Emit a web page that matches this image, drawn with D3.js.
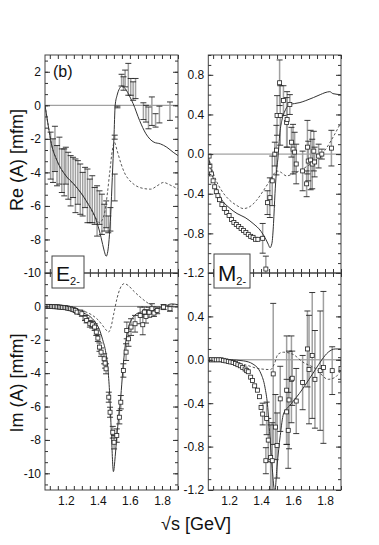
<!DOCTYPE html>
<html><head><meta charset="utf-8">
<script src="https://cdn.jsdelivr.net/npm/d3@7"></script>
<style>body{margin:0;background:#fff}svg{display:block}text{font-family:"Liberation Sans",Arial,Helvetica,sans-serif;fill:#111}</style>
</head><body><svg id="c" width="379" height="545"></svg>
<script>
// ---------- shared axis data ----------
const xDomain = [1.07, 1.9];
const xLabelTicks = [1.2, 1.4, 1.6, 1.8];

// ---------- Re E2- (top left) ----------
const reE_solidX = [1.07,1.09,1.11,1.145,1.2,1.25,1.3,1.34,1.38,1.41,1.43,1.44,1.452,1.462,1.47,1.48,1.49,1.50,1.508,1.52,1.535,1.55,1.57,1.6,1.62,1.66,1.7,1.75,1.79,1.83,1.87,1.9];
const reE_solidY = [0,-1.2,-2.3,-3.3,-4.2,-4.7,-5.3,-5.9,-6.6,-7.5,-8.3,-8.7,-9.0,-8.7,-8.0,-6.5,-4.3,-2.0,0.0,0.6,1.0,1.15,1.0,0.5,0.1,-0.9,-1.7,-2.2,-2.3,-2.5,-2.8,-3.0];
const reE_dashX = [1.07,1.09,1.11,1.145,1.2,1.25,1.3,1.34,1.38,1.41,1.44,1.46,1.475,1.49,1.503,1.52,1.545,1.57,1.6,1.63,1.68,1.73,1.77,1.81,1.85,1.9];
const reE_dashY = [0,-1.2,-2.3,-3.3,-4.2,-4.7,-5.3,-5.9,-6.6,-7.0,-6.5,-5.2,-3.9,-2.7,-2.2,-2.7,-3.5,-4.1,-4.5,-4.75,-4.95,-5.0,-4.8,-4.6,-4.75,-5.0];
const reE_ptX = [1.105,1.12,1.132,1.145,1.16,1.175,1.19,1.20,1.215,1.23,1.245,1.26,1.275,1.29,1.305,1.32,1.335,1.35,1.365,1.38,1.395,1.41,1.425,1.44,1.452,1.465,1.478,1.505,1.505,1.522,1.548,1.56,1.57,1.59,1.605,1.62,1.635,1.684,1.70,1.716,1.737,1.76,1.784,1.85];
const reE_ptY = [-3.0,-3.3,-2.6,-3.6,-3.3,-3.9,-4.0,-3.6,-4.2,-4.5,-4.3,-4.8,-4.6,-5.0,-5.3,-4.9,-5.4,-5.7,-5.6,-6.0,-6.3,-6.1,-6.5,-6.7,-6.5,-7.1,-6.8,-4.9,-1.9,-0.1,1.5,1.3,1.6,1.55,1.1,0.85,1.0,-0.35,-0.5,-0.75,-0.35,-0.9,-0.55,-0.35];
const reE_ptE = [1.4,1.3,1.35,1.2,1.4,1.3,1.4,1.1,1.4,1.5,1.2,1.6,1.3,1.5,1.3,1.2,1.6,1.3,1.4,1.1,1.5,1.0,1.2,0.8,0.8,0.5,0.7,0.8,0.12,0.05,0.35,0.4,0.5,0.95,0.5,0.55,0.6,0.5,0.5,0.65,0.85,0.4,0.5,0.55];

// ---------- Re M2- (top right) ----------
const reM_solidX = [1.07,1.08,1.09,1.10,1.12,1.15,1.2,1.25,1.3,1.35,1.4,1.43,1.445,1.456,1.468,1.478,1.487,1.495,1.505,1.518,1.53,1.545,1.56,1.58,1.61,1.643,1.68,1.727,1.77,1.8,1.83,1.85,1.9];
const reM_solidY = [-0.02,-0.1,-0.17,-0.24,-0.34,-0.45,-0.54,-0.6,-0.64,-0.7,-0.78,-0.86,-0.91,-0.945,-0.9,-0.7,-0.4,-0.2,-0.05,0.22,0.34,0.42,0.47,0.5,0.51,0.52,0.54,0.57,0.6,0.62,0.63,0.61,0.6];
const reM_dashX = [1.07,1.09,1.12,1.15,1.2,1.25,1.29,1.33,1.37,1.41,1.45,1.48,1.497,1.52,1.56,1.6,1.65,1.7,1.75,1.8,1.85,1.9];
const reM_dashY = [-0.02,-0.14,-0.27,-0.36,-0.46,-0.52,-0.55,-0.53,-0.47,-0.38,-0.28,-0.2,-0.17,-0.18,-0.22,-0.2,-0.16,-0.11,-0.05,0.04,0.17,0.32];
const reM_sqX = [1.075,1.08,1.09,1.10,1.11,1.12,1.13,1.14,1.155,1.17,1.185,1.2,1.215,1.23,1.245,1.26,1.275,1.29,1.305,1.32,1.335,1.35,1.365,1.38];
const reM_sqY = [-0.02,-0.12,-0.2,-0.27,-0.33,-0.38,-0.42,-0.46,-0.51,-0.55,-0.59,-0.62,-0.66,-0.69,-0.71,-0.73,-0.75,-0.77,-0.79,-0.81,-0.83,-0.84,-0.86,-0.86];
const reM_ptX = [1.41,1.43,1.44,1.455,1.47,1.486,1.496,1.50,1.516,1.52,1.54,1.56,1.563,1.58,1.59,1.60,1.61,1.62,1.66,1.685,1.69,1.695,1.71,1.72,1.73,1.735,1.76,1.78,1.84];
const reM_ptY = [-0.85,-1.16,-0.49,-0.44,-0.27,0.0,0.04,0.39,0.72,0.39,0.54,0.32,0.35,0.5,0.12,0.05,0.02,-0.1,-0.17,-0.3,0.07,-0.07,-0.06,-0.1,0.03,-0.08,-0.02,0.0,0.06];
const reM_ptE = [0.15,0.13,0.12,0.2,0.25,0.12,0.25,0.2,0.23,0.3,0.15,0.25,0.28,0.1,0.15,0.25,0.2,0.2,0.2,0.13,0.27,0.2,0.3,0.25,0.2,0.15,0.12,0.05,0.18];

// ---------- Im E2- (bottom left) ----------
const imE_solidX = [1.07,1.15,1.22,1.27,1.31,1.35,1.38,1.41,1.43,1.45,1.465,1.475,1.485,1.497,1.508,1.518,1.53,1.543,1.555,1.57,1.585,1.6,1.62,1.64,1.68,1.726,1.77,1.81,1.86,1.9];
const imE_solidY = [0,-0.05,-0.12,-0.25,-0.4,-0.6,-0.9,-1.4,-2.0,-2.8,-4.0,-5.5,-7.8,-9.9,-9.0,-7.8,-6.6,-5.4,-3.9,-2.4,-1.5,-1.0,-0.65,-0.45,-0.32,-0.25,-0.15,-0.05,0.15,0.1];
const imE_dashX = [1.07,1.2,1.3,1.36,1.4,1.43,1.45,1.466,1.48,1.5,1.52,1.54,1.564,1.59,1.62,1.664,1.7,1.737,1.78,1.82,1.86,1.9];
const imE_dashY = [0,-0.08,-0.25,-0.5,-0.8,-1.15,-1.4,-1.54,-1.3,-0.4,0.5,1.1,1.36,1.25,0.95,0.56,0.28,0.06,-0.05,0.0,0.1,0.1];
const imE_ptX = [1.08,1.09,1.10,1.11,1.12,1.13,1.14,1.15,1.16,1.17,1.18,1.19,1.20,1.21,1.22,1.23,1.24,1.25,1.26,1.27,1.29,1.30,1.32,1.33,1.35,1.365,1.38,1.39,1.40,1.41,1.42,1.439,1.445,1.451,1.468,1.476,1.493,1.501,1.518,1.534,1.543,1.559,1.576,1.58,1.591,1.607,1.632,1.664,1.68,1.69,1.70,1.72,1.737,1.75,1.77,1.81,1.85];
const imE_ptY = [0,0,0,-0.01,-0.01,-0.02,-0.02,-0.03,-0.04,-0.05,-0.06,-0.07,-0.08,-0.1,-0.12,-0.14,-0.17,-0.2,-0.25,-0.34,-0.35,-0.44,-0.7,-0.84,-1.04,-1.1,-1.24,-1.54,-1.9,-2.44,-2.74,-3.14,-3.4,-3.74,-5.44,-6.34,-7.54,-8.14,-7.74,-6.64,-5.74,-3.84,-2.74,-1.44,-1.94,-1.24,-1.04,-0.54,-1.1,-0.34,-0.6,-0.35,-0.14,-0.4,-0.24,-0.04,-0.14];
const imE_ptE = [0.05,0.05,0.05,0.05,0.05,0.05,0.05,0.05,0.05,0.05,0.05,0.06,0.06,0.06,0.07,0.07,0.08,0.08,0.09,0.1,0.12,0.15,0.15,0.15,0.2,0.2,0.2,0.2,0.2,0.25,0.25,0.3,0.3,0.3,0.3,0.3,0.35,0.4,0.4,0.4,0.4,0.4,0.5,0.5,0.45,0.5,0.5,0.5,0.6,0.3,0.4,0.3,0.3,0.2,0.2,0.15,0.15];

// ---------- Im M2- (bottom right) ----------
const imM_solidX = [1.07,1.2,1.29,1.35,1.40,1.424,1.44,1.455,1.47,1.486,1.50,1.52,1.54,1.58,1.64,1.7,1.74,1.78,1.82,1.865,1.9];
const imM_solidY = [0,0,-0.01,-0.04,-0.13,-0.25,-0.41,-0.7,-1.0,-1.22,-0.98,-0.7,-0.5,-0.42,-0.31,-0.18,-0.09,0,0.07,0.1,0.1];
const imM_dashX = [1.07,1.2,1.31,1.38,1.46,1.485,1.505,1.54,1.6,1.66,1.74,1.82,1.865,1.9];
const imM_dashY = [0,-0.02,-0.05,-0.08,-0.09,-0.03,0.05,0.07,0.05,-0.02,-0.08,-0.18,-0.16,-0.09];
const imM_sqX = [1.075,1.09,1.105,1.12,1.135,1.15,1.165,1.18,1.195,1.21,1.225,1.24,1.255,1.27,1.285,1.30,1.31,1.32,1.335,1.347,1.36,1.377,1.39,1.40];
const imM_sqY = [0,0,0,0,0,0,-0.005,-0.01,-0.015,-0.02,-0.025,-0.035,-0.045,-0.055,-0.07,-0.085,-0.1,-0.11,-0.16,-0.19,-0.24,-0.28,-0.34,-0.44];
const imM_ptX = [1.41,1.43,1.435,1.445,1.46,1.47,1.476,1.49,1.50,1.52,1.56,1.56,1.57,1.575,1.59,1.595,1.62,1.66,1.69,1.70,1.72,1.737,1.77,1.79,1.845,1.9];
const imM_ptY = [-0.5,-0.93,-0.54,-0.74,-0.9,-0.93,-0.13,-0.62,-0.79,-0.36,-0.48,-0.28,-0.65,-0.37,-0.18,-0.17,-0.38,-0.21,0.1,-0.09,0.04,-0.18,-0.1,-0.07,-0.1,-0.08];
const imM_ptE = [0.1,0.12,0.15,0.2,0.3,0.35,0.65,0.3,0.3,0.3,0.3,0.5,0.35,0.45,0.4,0.25,0.3,0.25,0.35,0.5,0.58,0.45,0.55,0.7,0.22,0.1];

// ---------- tick label lists ----------
const reE_yLabels = [2,0,-2,-4,-6,-8,-10];
const reM_yLabels = [0.8,0.4,0.0,-0.4,-0.8,-1.2];
const imE_yLabels = [0,-2,-4,-6,-8,-10];
const imM_yLabels = [0.4,0.0,-0.4,-0.8,-1.2];

const zip = (a,b,c) => a.map((v,i)=> c ? [v,b[i],c[i]] : [v,b[i]]);

const panels = [
  {name:'reE', px:[45,178], py:[273,55], yDom:[-10,3], yLabels:reE_yLabels, fmt:d3.format('d'), minorStep:2/3,
   solid:zip(reE_solidX,reE_solidY), dash:zip(reE_dashX,reE_dashY), pts:zip(reE_ptX,reE_ptY,reE_ptE), sq:[], marker:false, xLabels:false},
  {name:'reM', px:[208.3,341], py:[273,55], yDom:[-1.2,1.0], yLabels:reM_yLabels, fmt:d3.format('.1f'), minorStep:0.1,
   solid:zip(reM_solidX,reM_solidY), dash:zip(reM_dashX,reM_dashY), pts:zip(reM_ptX,reM_ptY,reM_ptE), sq:zip(reM_sqX,reM_sqY), marker:true, xLabels:false},
  {name:'imE', px:[45,178], py:[490,273], yDom:[-11,2], yLabels:imE_yLabels, fmt:d3.format('d'), minorStep:2/3,
   solid:zip(imE_solidX,imE_solidY), dash:zip(imE_dashX,imE_dashY), pts:zip(imE_ptX,imE_ptY,imE_ptE), sq:[], marker:true, xLabels:true},
  {name:'imM', px:[208.3,341], py:[490,273], yDom:[-1.2,0.8], yLabels:imM_yLabels, fmt:d3.format('.1f'), minorStep:0.1,
   solid:zip(imM_solidX,imM_solidY), dash:zip(imM_dashX,imM_dashY), pts:zip(imM_ptX,imM_ptY,imM_ptE), sq:zip(imM_sqX,imM_sqY), marker:true, xLabels:true},
];

const svg = d3.select('#c');
const minusFmt = f => (v => f(v).replace('\u2212','-'));

panels.forEach((p,i) => {
  const x = d3.scaleLinear().domain(xDomain).range(p.px);
  const y = d3.scaleLinear().domain(p.yDom).range(p.py);
  const w = p.px[1]-p.px[0], h = p.py[0]-p.py[1];
  const g = svg.append('g');
  const clipId = 'clip'+i;
  svg.append('clipPath').attr('id',clipId).append('rect')
    .attr('x',p.px[0]).attr('y',p.py[1]).attr('width',w).attr('height',h);
  const plot = g.append('g').attr('clip-path',`url(#${clipId})`);

  // zero line
  plot.append('line').attr('x1',p.px[0]).attr('x2',p.px[1]).attr('y1',y(0)).attr('y2',y(0))
    .attr('stroke','#8a8a8a').attr('stroke-width',1);

  // error bars
  const eb = plot.append('g');
  eb.selectAll('line.bar').data(p.pts).join('line').attr('class','bar')
    .attr('x1',d=>x(d[0])).attr('x2',d=>x(d[0])).attr('y1',d=>y(d[1]+d[2])).attr('y2',d=>y(d[1]-d[2]))
    .attr('stroke','#a0a0a0').attr('stroke-width',1.5);
  ['cap1','cap2'].forEach((c,k)=>{
    eb.selectAll('line.'+c).data(p.pts).join('line').attr('class',c)
      .attr('x1',d=>x(d[0])-3).attr('x2',d=>x(d[0])+3)
      .attr('y1',d=>y(d[1]+(k?-1:1)*d[2])).attr('y2',d=>y(d[1]+(k?-1:1)*d[2]))
      .attr('stroke','#222').attr('stroke-width',0.9);
  });

  // curves
  const line = d3.line().x(d=>x(d[0])).y(d=>y(d[1])).curve(d3.curveMonotoneX);
  plot.append('path').attr('d',line(p.dash)).attr('fill','none').attr('stroke','#444')
    .attr('stroke-width',0.9).attr('stroke-dasharray','2.5,2');
  plot.append('path').attr('d',line(p.solid)).attr('fill','none').attr('stroke','#333').attr('stroke-width',1);

  // markers
  const allSq = p.sq.concat(p.marker ? p.pts.map(d=>[d[0],d[1]]) : []);
  plot.selectAll('rect.sq').data(allSq).join('rect').attr('class','sq')
    .attr('x',d=>x(d[0])-2).attr('y',d=>y(d[1])-2).attr('width',4).attr('height',4)
    .attr('fill','#fff').attr('stroke','#222').attr('stroke-width',0.8);

  // frame
  g.append('rect').attr('x',p.px[0]).attr('y',p.py[1]).attr('width',w).attr('height',h)
    .attr('fill','none').attr('stroke','#444').attr('stroke-width',1);

  // axes
  const yMinor = d3.range(Math.ceil(p.yDom[0]/p.minorStep), Math.floor(p.yDom[1]/p.minorStep)+1).map(k=>+(k*p.minorStep).toFixed(4));
  const xMinor = d3.range(22,39).map(k=>+(k*0.05).toFixed(2));
  const style = sel => { sel.select('.domain').remove(); sel.selectAll('line').attr('stroke','#333'); sel.selectAll('text').attr('font-size',12).attr('fill','#111').attr('font-family','"Liberation Sans",Arial,sans-serif'); };
  g.append('g').attr('transform',`translate(${p.px[0]},0)`)
    .call(d3.axisLeft(y).tickValues(p.yLabels).tickSize(-5).tickPadding(4).tickFormat(minusFmt(p.fmt))).call(style);
  g.append('g').attr('transform',`translate(${p.px[0]},0)`)
    .call(d3.axisLeft(y).tickValues(yMinor).tickSize(-3).tickFormat('')).call(style);
  g.append('g').attr('transform',`translate(${p.px[1]},0)`)
    .call(d3.axisRight(y).tickValues(p.yLabels).tickSize(-5).tickFormat('')).call(style);
  g.append('g').attr('transform',`translate(${p.px[1]},0)`)
    .call(d3.axisRight(y).tickValues(yMinor).tickSize(-3).tickFormat('')).call(style);
  g.append('g').attr('transform',`translate(0,${p.py[1]})`)
    .call(d3.axisTop(x).tickValues(xMinor).tickSize(-4).tickFormat('')).call(style);
  g.append('g').attr('transform',`translate(0,${p.py[0]})`)
    .call(d3.axisBottom(x).tickValues(xMinor).tickSize(-4).tickFormat('')).call(style);
  if (p.xLabels) {
    g.append('g').attr('transform',`translate(0,${p.py[0]})`)
      .call(d3.axisBottom(x).tickValues(xLabelTicks).tickSize(0).tickPadding(6).tickFormat(d3.format('.1f'))).call(style);
  }
});

// label boxes
function labelBox(bx, by, bw, bh, main, sub, fs) {
  svg.append('rect').attr('x',bx).attr('y',by).attr('width',bw).attr('height',bh)
    .attr('fill','#fff').attr('stroke','#444').attr('stroke-width',1);
  const t = svg.append('text').attr('x',bx+4).attr('y',by+bh-7).attr('font-size',fs);
  t.append('tspan').text(main);
  t.append('tspan').attr('font-size',11).attr('dy',4).text(sub);
}
labelBox(52,256,32,32,'E','2-',21);
labelBox(214,254,36,34,'M','2-',22);

svg.append('text').attr('x',53).attr('y',77).attr('font-size',16).text('(b)');
svg.append('text').attr('transform','translate(23,160) rotate(-90)').attr('text-anchor','middle').attr('font-size',18).text('Re (A) [mfm]');
svg.append('text').attr('transform','translate(23,383) rotate(-90)').attr('text-anchor','middle').attr('font-size',18).text('Im (A) [mfm]');
svg.append('text').attr('x',196).attr('y',530).attr('text-anchor','middle').attr('font-size',18).text('\u221As [GeV]');
</script></body></html>
